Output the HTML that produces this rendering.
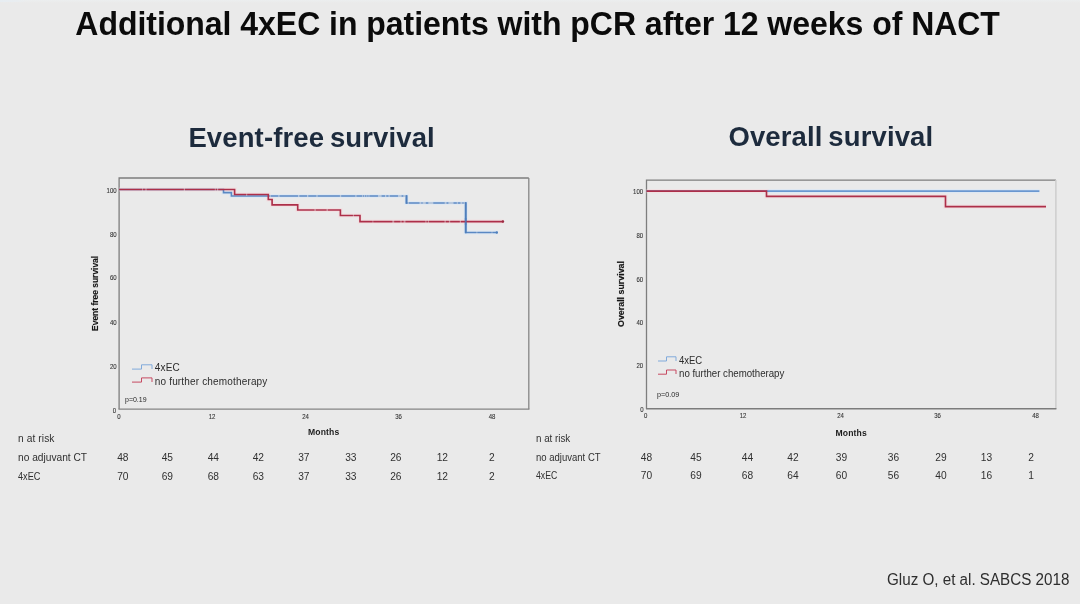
<!DOCTYPE html>
<html lang="en">
<head>
<meta charset="utf-8">
<title>Additional 4xEC in patients with pCR after 12 weeks of NACT</title>
<style>
  html, body { margin: 0; padding: 0; }
  body {
    width: 1080px; height: 604px; overflow: hidden; position: relative;
    background: #eaeaea;
    font-family: "Liberation Sans", sans-serif;
  }
  .slide { position: absolute; left: 0; top: 0; width: 1080px; height: 604px; overflow: hidden; background: #eaeaea; }
  .topedge { position: absolute; left: 0; top: 0; width: 1080px; height: 3px; background: linear-gradient(to bottom, #eceeef, #ebecec 60%, #eaeaea); }
  .topedge::before { content: ""; position: absolute; left: 0; top: 0; width: 26px; height: 2px; background: linear-gradient(to right, #e7edf2, #e9edf0 70%, rgba(234,236,238,0)); }
  .t { position: absolute; white-space: nowrap; line-height: 1; margin: 0; padding: 0; }
  h1.t { font-weight: bold; font-size: 32px; letter-spacing: -0.03px; color: #0b0b0b; left: 75.3px; top: 7.5px; transform: scaleY(1.02); transform-origin: 0 27.1px; }
  h2.t { font-weight: bold; font-size: 27.5px; letter-spacing: 0.12px; word-spacing: -1.9px; color: #1d2b3d; transform: scaleY(1.035); transform-origin: 0 23.3px; }
  .tbl { font-size: 10.2px; color: #303030; }
  .sx { transform-origin: 0 50%; }
  .num { text-align: center; width: 40px; margin-left: -20px; }
  .cite { font-size: 15.2px; color: #2e2e2e; left: 887px; top: 572px; transform: scaleY(1.04); transform-origin: 0 12.9px; }
  svg { position: absolute; left: 0; top: 0; filter: blur(0.4px); }
  h1.t, h2.t, .tbl, .cite { filter: blur(0.4px); }
  svg text { font-family: "Liberation Sans", sans-serif; }
</style>
</head>
<body>
<div class="slide">
  <div class="topedge"></div>
  <h1 class="t">Additional 4xEC in patients with pCR after 12 weeks of NACT</h1>

  <h2 class="t" style="left:188.4px; top:124.1px;">Event-free survival</h2>
  <h2 class="t" style="left:728.4px; top:123.2px;">Overall survival</h2>

  <svg width="1080" height="604" viewBox="0 0 1080 604">
    <!-- LEFT CHART: event-free survival -->
    <g id="efs">
      <g fill="none" stroke-width="1.3">
        <path d="M119.1 409.2 V178 H528.8" stroke="#7e7e7e"/>
        <path d="M528.8 178 V409.2" stroke="#868686"/>
        <path d="M118.5 409.2 H529.4" stroke="#848484" stroke-width="1.25"/>
      </g>
      <g fill="none" stroke-linejoin="miter">
        <path d="M223.5 189.5 V192.6 H231.4 V196 H406.5 V203 H465.7 V232.5 H497.5" stroke="#d6e6f7" stroke-opacity="0.55" stroke-width="4.2"/>
        <path d="M119.1 189.5 H234.6 V194.5 H268.3 V199.5 H272.1 V204.8 H297.7 V210 H340.4 V215.5 H360 V221.6 H503.5" stroke="#f8d8dc" stroke-opacity="0.5" stroke-width="4.2"/>
        <path d="M119.1 189.5 H223.5 V192.6 H231.4 V196 H406.5 V203 H465.7 V232.5 H497.5" stroke="#5a88c3" stroke-width="1.6"/>
        <path d="M269.8 196 H270.8 M278.3 196 H279.5 M298.0 196 H299.4 M307.0 196 H308.3 M316.4 196 H317.6 M339.9 196 H341.2 M355.3 196 H356.5 M362.0 196 H362.8 M364.2 196 H365.0 M366.4 196 H367.2 M368.6 196 H369.4 M378.0 196 H381.6 M385.0 196 H386.3 M388.5 196 H389.8 M398.0 196 H401.6 M403.3 196 H406.0" fill="none" stroke="#eaeaea" stroke-width="3.2" stroke-opacity="0.55"/>
        <path d="M407.6 203 H408.8 M419.5 203 H421.4 M422.6 203 H425.8 M428.3 203 H433.3 M444.7 203 H446.5 M448.4 203 H453.5 M456.8 203 H457.8 M460.4 203 H462.4 M463.6 203 H465.0" fill="none" stroke="#eaeaea" stroke-width="3.2" stroke-opacity="0.55"/>
        <path d="M476.4 232.5 H477.4 M491.5 232.5 H492.5" fill="none" stroke="#eaeaea" stroke-width="3.2" stroke-opacity="0.4"/>
        <path d="M406.5 195.2 V203.8 M465.7 202.2 V233.3" stroke="#4f7fbc" stroke-width="1.8"/>
        <path d="M119.1 189.5 H234.6 V194.5 H268.3 V199.5 H272.1 V204.8 H297.7 V210 H340.4 V215.5 H360 V221.6 H503.5" stroke="#ad2f49" stroke-width="1.65"/>
        <path d="M142.0 189.5 H142.8 M145.4 189.5 H146.6 M183.8 189.5 H185.0 M214.8 189.5 H215.7 M217.0 189.5 H218.2" fill="none" stroke="#eaeaea" stroke-width="3.2" stroke-opacity="0.45"/>
        <path d="M246.2 194.5 H247.2" fill="none" stroke="#eaeaea" stroke-width="3.2" stroke-opacity="0.45"/>
        <path d="M314.4 210 H315.8 M326.5 210 H327.9" fill="none" stroke="#eaeaea" stroke-width="3.2" stroke-opacity="0.45"/>
        <path d="M352.9 215.5 H353.9" fill="none" stroke="#eaeaea" stroke-width="3.2" stroke-opacity="0.45"/>
        <path d="M372.5 221.6 H373.3 M392.3 221.6 H394.2 M400.4 221.6 H401.6 M403.6 221.6 H405.5 M425.4 221.6 H426.4 M427.9 221.6 H428.9 M444.5 221.6 H445.8 M448.9 221.6 H450.2 M459.8 221.6 H461.0" fill="none" stroke="#eaeaea" stroke-width="3.2" stroke-opacity="0.45"/>
        <path d="M465.7 218 V225" stroke="#4f7fbc" stroke-width="1.8" stroke-opacity="0.7"/>
        <circle cx="502.9" cy="221.6" r="1.25" fill="#9c2a42"/>
        <circle cx="496.8" cy="232.5" r="1.2" fill="#4f7fbc"/>
      </g>
      <g font-size="6.7" fill="#333333" stroke="#333333" stroke-width="0.1">
        <text transform="translate(116.6 192.8) scale(0.9 1)" text-anchor="end">100</text>
        <text transform="translate(116.6 236.9) scale(0.9 1)" text-anchor="end">80</text>
        <text transform="translate(116.6 280.4) scale(0.9 1)" text-anchor="end">60</text>
        <text transform="translate(116.6 324.7) scale(0.9 1)" text-anchor="end">40</text>
        <text transform="translate(116.6 368.6) scale(0.9 1)" text-anchor="end">20</text>
        <text transform="translate(116.1 412.8) scale(0.9 1)" text-anchor="end">0</text>
      </g>
      <g font-size="6.7" fill="#333333" stroke="#333333" stroke-width="0.1">
        <text transform="translate(119 418.5) scale(0.9 1)" text-anchor="middle">0</text>
        <text transform="translate(212 418.5) scale(0.9 1)" text-anchor="middle">12</text>
        <text transform="translate(305.5 418.5) scale(0.9 1)" text-anchor="middle">24</text>
        <text transform="translate(398.5 418.5) scale(0.9 1)" text-anchor="middle">36</text>
        <text transform="translate(492 418.5) scale(0.9 1)" text-anchor="middle">48</text>
      </g>
      <text transform="translate(323.7 434.8) scale(1 1.06)" font-size="8.6" font-weight="bold" fill="#1c1c1c" text-anchor="middle" letter-spacing="0.12">Months</text>
      <text transform="translate(98.2 293.4) rotate(-90) scale(0.94 1.03)" font-size="9" font-weight="bold" fill="#161616" stroke="#161616" stroke-width="0.15" text-anchor="middle">Event free survival</text>
      <path d="M132 369.1 H141.5 V364.8 H152 V369" fill="none" stroke="#7ba6da" stroke-width="0.95"/>
      <path d="M132 382.1 H141.5 V377.9 H152 V382" fill="none" stroke="#c5425b" stroke-width="0.95"/>
      <g font-size="10" fill="#2c2c2c" letter-spacing="0.17">
        <text transform="translate(154.8 371.4) scale(1 1.04)">4xEC</text>
        <text transform="translate(154.8 384.9) scale(1 1.04)">no further chemotherapy</text>
      </g>
      <text x="125" y="402.4" font-size="7" fill="#262626">p=0.19</text>
    </g>

    <!-- RIGHT CHART: overall survival -->
    <g id="os">
      <g fill="none" stroke-width="1.3">
        <path d="M646.5 409 V180.1 H1055.9" stroke="#7e7e7e"/>
        <path d="M1055.9 180.1 V409" stroke="#cbcbcb" stroke-width="1.4"/>
        <path d="M646 408.8 H1056.4" stroke="#7c7c7c" stroke-width="1.4"/>
      </g>
      <g fill="none" stroke-linejoin="miter">
        <path d="M766.5 191.1 H1039.4" stroke="#d6e6f7" stroke-opacity="0.55" stroke-width="4.2"/>
        <path d="M646.5 191.1 H766.5 V196.4 H945.5 V206.6 H1046" stroke="#f8d8dc" stroke-opacity="0.5" stroke-width="4.2"/>
        <path d="M646.5 191.1 H1039.4" stroke="#6a97d0" stroke-width="1.6"/>
        <path d="M646.5 191.1 H766.5 V196.4 H945.5 V206.6 H1046" stroke="#ad2f49" stroke-width="1.65"/>
      </g>
      <g font-size="6.7" fill="#333333" stroke="#333333" stroke-width="0.1">
        <text transform="translate(643.1 194.1) scale(0.9 1)" text-anchor="end">100</text>
        <text transform="translate(643.1 238.1) scale(0.9 1)" text-anchor="end">80</text>
        <text transform="translate(643.1 281.6) scale(0.9 1)" text-anchor="end">60</text>
        <text transform="translate(643.1 325) scale(0.9 1)" text-anchor="end">40</text>
        <text transform="translate(643.1 368) scale(0.9 1)" text-anchor="end">20</text>
        <text transform="translate(643.5 412.4) scale(0.9 1)" text-anchor="end">0</text>
      </g>
      <g font-size="6.7" fill="#333333" stroke="#333333" stroke-width="0.1">
        <text transform="translate(645.7 418.3) scale(0.9 1)" text-anchor="middle">0</text>
        <text transform="translate(743 418.3) scale(0.9 1)" text-anchor="middle">12</text>
        <text transform="translate(840.5 418.3) scale(0.9 1)" text-anchor="middle">24</text>
        <text transform="translate(937.5 418.3) scale(0.9 1)" text-anchor="middle">36</text>
        <text transform="translate(1035.5 418.3) scale(0.9 1)" text-anchor="middle">48</text>
      </g>
      <text transform="translate(851.2 435.8) scale(1 1.06)" font-size="8.6" font-weight="bold" fill="#1c1c1c" text-anchor="middle" letter-spacing="0.12">Months</text>
      <text transform="translate(624.4 294) rotate(-90) scale(0.985 1.03)" font-size="9" font-weight="bold" fill="#161616" stroke="#161616" stroke-width="0.15" text-anchor="middle">Overall survival</text>
      <path d="M658 361 H666.5 V356.8 H676 V361" fill="none" stroke="#7ba6da" stroke-width="0.95"/>
      <path d="M658 374.2 H666.5 V370 H676 V374" fill="none" stroke="#c5425b" stroke-width="0.95"/>
      <g font-size="10" fill="#2c2c2c">
        <text transform="translate(679 363.6) scale(0.95 1.04)">4xEC</text>
        <text transform="translate(679 376.8) scale(0.968 1.04)">no further chemotherapy</text>
      </g>
      <text x="657" y="397.3" font-size="7.2" fill="#262626">p=0.09</text>
    </g>
  </svg>

  <!-- LEFT TABLE -->
  <div class="t tbl" style="left:18px; top:434.2px; letter-spacing:0.1px;">n at risk</div>
  <div class="t tbl" style="left:18px; top:452.9px;">no adjuvant CT</div>
  <div class="t tbl sx" style="left:18px; top:471.6px; transform:scaleX(0.9);">4xEC</div>
  <div class="t tbl num" style="left:122.8px; top:452.9px;">48</div>
  <div class="t tbl num" style="left:167.3px; top:452.9px;">45</div>
  <div class="t tbl num" style="left:213.3px; top:452.9px;">44</div>
  <div class="t tbl num" style="left:258.3px; top:452.9px;">42</div>
  <div class="t tbl num" style="left:303.8px; top:452.9px;">37</div>
  <div class="t tbl num" style="left:350.8px; top:452.9px;">33</div>
  <div class="t tbl num" style="left:395.8px; top:452.9px;">26</div>
  <div class="t tbl num" style="left:442.3px; top:452.9px;">12</div>
  <div class="t tbl num" style="left:491.8px; top:452.9px;">2</div>
  <div class="t tbl num" style="left:122.8px; top:471.6px;">70</div>
  <div class="t tbl num" style="left:167.3px; top:471.6px;">69</div>
  <div class="t tbl num" style="left:213.3px; top:471.6px;">68</div>
  <div class="t tbl num" style="left:258.3px; top:471.6px;">63</div>
  <div class="t tbl num" style="left:303.8px; top:471.6px;">37</div>
  <div class="t tbl num" style="left:350.8px; top:471.6px;">33</div>
  <div class="t tbl num" style="left:395.8px; top:471.6px;">26</div>
  <div class="t tbl num" style="left:442.3px; top:471.6px;">12</div>
  <div class="t tbl num" style="left:491.8px; top:471.6px;">2</div>

  <!-- RIGHT TABLE -->
  <div class="t tbl sx" style="left:536px; top:433.8px; transform:scaleX(0.96);">n at risk</div>
  <div class="t tbl sx" style="left:536px; top:452.9px; transform:scaleX(0.935);">no adjuvant CT</div>
  <div class="t tbl sx" style="left:536px; top:470.9px; transform:scaleX(0.85);">4xEC</div>
  <div class="t tbl num" style="left:646.5px; top:452.9px;">48</div>
  <div class="t tbl num" style="left:696.0px; top:452.9px;">45</div>
  <div class="t tbl num" style="left:747.5px; top:452.9px;">44</div>
  <div class="t tbl num" style="left:793.0px; top:452.9px;">42</div>
  <div class="t tbl num" style="left:841.5px; top:452.9px;">39</div>
  <div class="t tbl num" style="left:893.5px; top:452.9px;">36</div>
  <div class="t tbl num" style="left:941.0px; top:452.9px;">29</div>
  <div class="t tbl num" style="left:986.5px; top:452.9px;">13</div>
  <div class="t tbl num" style="left:1031.0px; top:452.9px;">2</div>
  <div class="t tbl num" style="left:646.5px; top:470.9px;">70</div>
  <div class="t tbl num" style="left:696.0px; top:470.9px;">69</div>
  <div class="t tbl num" style="left:747.5px; top:470.9px;">68</div>
  <div class="t tbl num" style="left:793.0px; top:470.9px;">64</div>
  <div class="t tbl num" style="left:841.5px; top:470.9px;">60</div>
  <div class="t tbl num" style="left:893.5px; top:470.9px;">56</div>
  <div class="t tbl num" style="left:941.0px; top:470.9px;">40</div>
  <div class="t tbl num" style="left:986.5px; top:470.9px;">16</div>
  <div class="t tbl num" style="left:1031.0px; top:470.9px;">1</div>

  <div class="t cite">Gluz O, et al. SABCS 2018</div>
</div>
</body>
</html>
